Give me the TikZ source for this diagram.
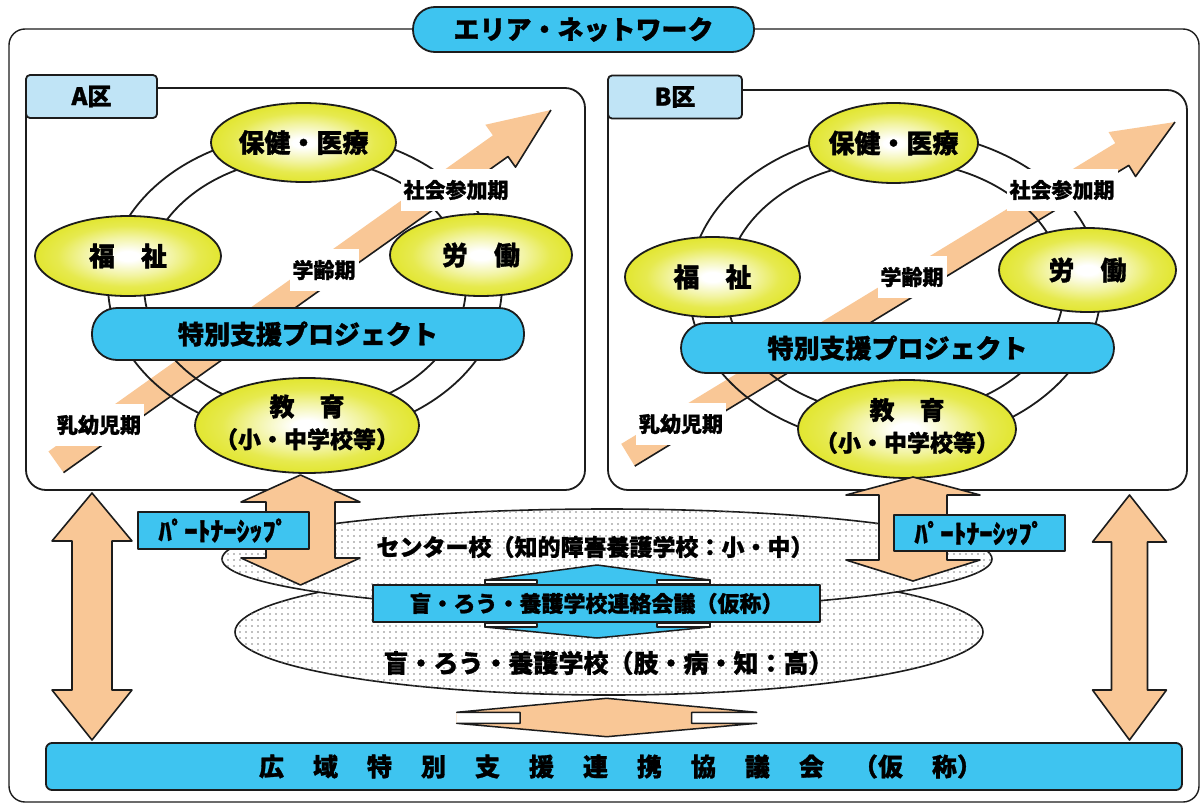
\documentclass[tikz,border=0pt]{standalone}
\usepackage{fontspec}
\setmainfont{Noto Sans CJK JP}[BoldFeatures={FakeBold=1.2}]
\usetikzlibrary{shapes.geometric,patterns.meta}
\definecolor{cyanb}{RGB}{62,196,240}
\definecolor{tabb}{RGB}{192,228,246}
\definecolor{peach}{RGB}{249,199,150}
\definecolor{yel}{RGB}{226,230,48}
\definecolor{ink}{RGB}{28,28,28}
\pgfdeclareradialshading{ellsh}{\pgfpoint{0bp}{0bp}}{color(0bp)=(white); color(3bp)=(white); color(12bp)=(yel!45!white); color(19bp)=(yel!85!white); color(25bp)=(yel); color(50bp)=(yel)}
\newcommand\jpfs[1]{\fontsize{#1}{#1}\selectfont}
\newcommand\bgap{\hspace{29pt}}
% vertical double block arrow: style, cx, ytip1, ybase1, ybase2, ytip2, head half width, shaft half width
\newcommand\vdarr[8]{\draw[#1] (#2,#3) -- ({#2+#7},#4) -- ({#2+#8},#4) -- ({#2+#8},#5) -- ({#2+#7},#5) -- (#2,#6) -- ({#2-#7},#5) -- ({#2-#8},#5) -- ({#2-#8},#4) -- ({#2-#7},#4) -- cycle;}
\begin{document}
\begin{tikzpicture}[x=1pt,y=-1pt,line join=round,
  ln/.style={draw=ink,line width=1.8pt},
  jf/.style={font={\bfseries\jpfs{#1}}},
  ell/.style={ellipse,ln,shading=ellsh,inner sep=0pt},
  etext/.style={inner sep=0pt,align=center},
  lbl/.style={fill=white,inner xsep=3pt,inner ysep=11pt,jf=21},
  pillbox/.style={ln,fill=cyanb,rounded corners=25pt,inner sep=0pt,minimum height=52pt,jf=26},
  tabbox/.style={ln,fill=tabb,rounded corners=4pt,inner sep=0pt,minimum height=43pt,jf=24},
  panel/.style={ln,fill=white,rounded corners=20pt,inner sep=0pt},
  dotsfill/.style={fill=white,postaction={pattern={Dots[distance=6pt,radius=0.8pt]},pattern color=black!50}},
  pbox/.style={ln,fill=cyanb,inner sep=0pt,minimum width=171pt,minimum height=37pt,jf=26},
  barrow/.style={ln,line width=1.6pt,fill=peach}
]
\useasboundingbox (0,0) rectangle (1202,806);

% outer frame and title
\node[ln,line width=1.4pt,fill=white,rounded corners=16pt,minimum width=1190pt,minimum height=773pt,inner sep=0pt] (outer) at (604,415.5) {};
\node[ln,fill=cyanb,rounded corners=22pt,minimum width=341pt,minimum height=45pt,inner sep=0pt,jf=26] (title) at (583.5,29.5) {エリア・ネットワーク};

% ================= A 区 =================
\node[panel,minimum width=559pt,minimum height=402pt] (panelA) at (305.5,289) {};
\node[tabbox,minimum width=131pt] (tabA) at (91.5,96.5) {A区\hspace{15pt}};
\fill[white,even odd rule] (305,285) ellipse [x radius=197pt,y radius=152pt] (305,285) ellipse [x radius=161pt,y radius=127pt];
\begin{scope}[shift={(56,462)},rotate=35.42]
  \fill[peach] (0,-13) -- (545.4,-13) -- (545.4,-26) -- (607.4,0) -- (545.4,26) -- (545.4,13) -- (0,13) -- cycle;
  \draw[ink,line width=1.6pt] (0,13) -- (545.4,13) -- (545.4,26) -- (607.4,0);
\end{scope}
\draw[ln] (305,285) ellipse [x radius=197pt,y radius=152pt];
\draw[ln] (305,285) ellipse [x radius=161pt,y radius=127pt];
\node[ell,minimum width=185pt,minimum height=79pt] (hokenA) at (303.5,142.5) {};
\node[etext,jf=26] at (hokenA) {保健・医療};
\node[ell,minimum width=186pt,minimum height=80pt] (fukushiA) at (128,256) {};
\node[etext,jf=26] at (fukushiA) {福　祉};
\node[ell,minimum width=182pt,minimum height=82pt] (roudouA) at (481,255) {};
\node[etext,jf=26] at (roudouA) {労　働};
\node[pillbox,minimum width=432pt] (projA) at (308,334) {特別支援プロジェクト};
\node[ell,minimum width=224pt,minimum height=95pt] (kyouikuA) at (307,425.5) {};
\node[etext,font={\bfseries\fontsize{25}{32}\selectfont},yshift=3pt] at (kyouikuA) {教　育\\{\jpfs{23}（小・中学校等）}};
\node[lbl] (shakaiA) at (456,190) {社会参加期};
\node[lbl] (gakureiA) at (324,270) {学齢期};
\node[lbl] (nyuA) at (99,425) {乳幼児期};

% ================= B 区 =================
\node[panel,minimum width=579pt,minimum height=400pt] (panelB) at (897.5,290) {};
\node[tabbox,minimum width=134pt] (tabB) at (675,97) {B区\hspace{8pt}};
\fill[white,even odd rule] (895,288) ellipse [x radius=206pt,y radius=157pt] (895,288) ellipse [x radius=169pt,y radius=127pt];
\begin{scope}[shift={(628,455)},rotate=31.33]
  \fill[peach] (0,-13) -- (578.4,-13) -- (578.4,-26) -- (640.4,0) -- (578.4,26) -- (578.4,13) -- (0,13) -- cycle;
  \draw[ink,line width=1.6pt] (0,13) -- (578.4,13) -- (578.4,26) -- (640.4,0);
\end{scope}
\draw[ln] (895,288) ellipse [x radius=206pt,y radius=157pt];
\draw[ln] (895,288) ellipse [x radius=169pt,y radius=127pt];
\node[ell,minimum width=169pt,minimum height=80pt] (hokenB) at (893.5,143) {};
\node[etext,jf=26] at (hokenB) {保健・医療};
\node[ell,minimum width=175pt,minimum height=80pt] (fukushiB) at (712.5,277) {};
\node[etext,jf=26] at (fukushiB) {福　祉};
\node[ell,minimum width=177pt,minimum height=84pt] (roudouB) at (1087.5,270) {};
\node[etext,jf=26] at (roudouB) {労　働};
\node[pillbox,minimum width=433pt,minimum height=50pt] (projB) at (897.5,348) {特別支援プロジェクト};
\node[ell,minimum width=218pt,minimum height=98pt] (kyouikuB) at (907,429) {};
\node[etext,font={\bfseries\fontsize{25}{32}\selectfont},yshift=3pt] at (kyouikuB) {教　育\\{\jpfs{23}（小・中学校等）}};
\node[lbl] (shakaiB) at (1062,190) {社会参加期};
\node[lbl] (gakureiB) at (912,277) {学齢期};
\node[lbl] (nyuB) at (681,424) {乳幼児期};

% ================= centre =================
\node[ellipse,ln,line width=1.6pt,dotsfill,minimum width=748pt,minimum height=126pt,inner sep=0pt] (ell2) at (609,632) {};
\node[ellipse,ln,line width=1.6pt,dotsfill,minimum width=770pt,minimum height=100pt,inner sep=0pt] (ell1) at (607,559) {};
\node[jf=23] (centerT) at (595,547) {センター校（知的障害養護学校：小・中）};
% blue vertical double arrow behind the liaison box
\draw[ln,line width=1.5pt,fill=cyanb] (597,565) -- (710,580) -- (710,627) -- (597,638) -- (485,627) -- (485,580) -- cycle;
\draw[ink,line width=1.2pt,fill=white] (485,580) rectangle (537,583.5);
\draw[ink,line width=1.2pt,fill=white] (657,580) rectangle (710,583.5);
\draw[ink,line width=1.2pt,fill=white] (485,623.5) rectangle (537,627);
\draw[ink,line width=1.2pt,fill=white] (657,623.5) rectangle (710,627);
\node[ln,fill=cyanb,minimum width=447pt,minimum height=37pt,inner sep=0pt,jf=22] (renraku) at (596.5,603.5) {盲・ろう・養護学校連絡会議（仮称）};
\node[jf=25] (moukouT) at (608.5,663) {盲・ろう・養護学校（肢・病・知：高）};

% partnership arrows and labels
\vdarr{barrow}{300.5}{475}{502}{558}{585}{59.5}{34.5}
\vdarr{barrow}{913}{477}{495}{560}{581}{67}{34}
\node[pbox] (partA) at (223.5,530.5) {ﾊﾟｰﾄﾅｰｼｯﾌﾟ};
\node[pbox,minimum height=36pt] (partB) at (979.5,533) {ﾊﾟｰﾄﾅｰｼｯﾌﾟ};

% side arrows to the council bar
\vdarr{barrow}{92}{493}{541}{690}{740}{40}{20}
\vdarr{barrow}{1129.5}{495}{542}{690}{740}{37}{18}

% horizontal arrow above the bar
\fill[peach] (456.7,712.3) -- (606.7,698.3) -- (756.7,712.3) -- (756.7,723.3) -- (606.7,736.7) -- (456.7,723.3) -- cycle;
\fill[white] (456.7,712.3) rectangle (520,723.3);
\fill[white] (691.7,712.3) rectangle (756.7,723.3);
\draw[ink,line width=1.5pt] (456.7,712.3) -- (606.7,698.3) -- (756.7,712.3) -- (691.7,712.3) -- (691.7,723.3) -- (756.7,723.3) -- (606.7,736.7) -- (456.7,723.3) -- (520,723.3) -- (520,712.3) -- cycle;

% council bar
\node[ln,fill=cyanb,rounded corners=6pt,minimum width=1136pt,minimum height=47pt,inner sep=0pt,jf=25] (bar) at (614,766.5) {\hspace*{13pt}広\bgap 域\bgap 特\bgap 別\bgap 支\bgap 援\bgap 連\bgap 携\bgap 協\bgap 議\bgap 会\bgap （仮\bgap 称）};
\end{tikzpicture}
\end{document}
